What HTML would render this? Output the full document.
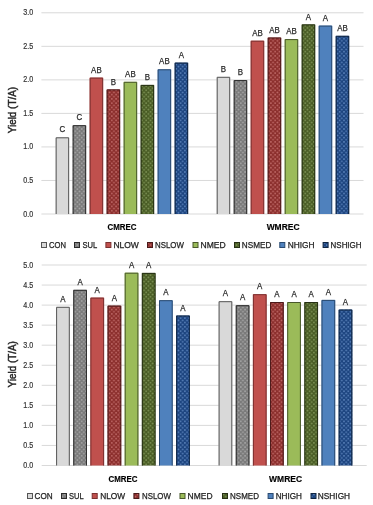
<!DOCTYPE html><html><head><meta charset="utf-8"><style>html,body{margin:0;padding:0;background:#fff;}svg{display:block;filter:blur(0.4px);}</style></head><body>
<svg width="373" height="505" viewBox="0 0 373 505">
<defs>
<pattern id="pSUL" patternUnits="userSpaceOnUse" width="4.3" height="4.3"><rect width="4.3" height="4.3" fill="#7a7a7a"/><circle cx="0" cy="0" r="0.9" fill="#a8a8a8"/><circle cx="4.3" cy="0" r="0.9" fill="#a8a8a8"/><circle cx="0" cy="4.3" r="0.9" fill="#a8a8a8"/><circle cx="4.3" cy="4.3" r="0.9" fill="#a8a8a8"/><circle cx="2.15" cy="2.15" r="0.9" fill="#a8a8a8"/></pattern>
<pattern id="pNSLOW" patternUnits="userSpaceOnUse" width="4.3" height="4.3"><rect width="4.3" height="4.3" fill="#8c2f2d"/><circle cx="0" cy="0" r="0.9" fill="#c06b69"/><circle cx="4.3" cy="0" r="0.9" fill="#c06b69"/><circle cx="0" cy="4.3" r="0.9" fill="#c06b69"/><circle cx="4.3" cy="4.3" r="0.9" fill="#c06b69"/><circle cx="2.15" cy="2.15" r="0.9" fill="#c06b69"/></pattern>
<pattern id="pNSMED" patternUnits="userSpaceOnUse" width="4.3" height="4.3"><rect width="4.3" height="4.3" fill="#4a5d25"/><circle cx="0" cy="0" r="0.9" fill="#7f9458"/><circle cx="4.3" cy="0" r="0.9" fill="#7f9458"/><circle cx="0" cy="4.3" r="0.9" fill="#7f9458"/><circle cx="4.3" cy="4.3" r="0.9" fill="#7f9458"/><circle cx="2.15" cy="2.15" r="0.9" fill="#7f9458"/></pattern>
<pattern id="pNSHIGH" patternUnits="userSpaceOnUse" width="4.3" height="4.3"><rect width="4.3" height="4.3" fill="#1d4580"/><circle cx="0" cy="0" r="0.9" fill="#5b83bb"/><circle cx="4.3" cy="0" r="0.9" fill="#5b83bb"/><circle cx="0" cy="4.3" r="0.9" fill="#5b83bb"/><circle cx="4.3" cy="4.3" r="0.9" fill="#5b83bb"/><circle cx="2.15" cy="2.15" r="0.9" fill="#5b83bb"/></pattern>
</defs>
<rect width="373" height="505" fill="#fff"/>
<line x1="41.4" y1="214.00" x2="363.5" y2="214.00" stroke="#d9d9d9" stroke-width="1"/>
<text x="23.30" y="216.50" font-family='"Liberation Sans", sans-serif' font-size="8.6" fill="#333" stroke="#333" stroke-width="0.2" textLength="9.9" lengthAdjust="spacingAndGlyphs">0.0</text>
<line x1="41.4" y1="180.47" x2="363.5" y2="180.47" stroke="#d9d9d9" stroke-width="1"/>
<text x="23.30" y="182.97" font-family='"Liberation Sans", sans-serif' font-size="8.6" fill="#333" stroke="#333" stroke-width="0.2" textLength="9.9" lengthAdjust="spacingAndGlyphs">0.5</text>
<line x1="41.4" y1="146.93" x2="363.5" y2="146.93" stroke="#d9d9d9" stroke-width="1"/>
<text x="23.30" y="149.43" font-family='"Liberation Sans", sans-serif' font-size="8.6" fill="#333" stroke="#333" stroke-width="0.2" textLength="9.9" lengthAdjust="spacingAndGlyphs">1.0</text>
<line x1="41.4" y1="113.40" x2="363.5" y2="113.40" stroke="#d9d9d9" stroke-width="1"/>
<text x="23.30" y="115.90" font-family='"Liberation Sans", sans-serif' font-size="8.6" fill="#333" stroke="#333" stroke-width="0.2" textLength="9.9" lengthAdjust="spacingAndGlyphs">1.5</text>
<line x1="41.4" y1="79.86" x2="363.5" y2="79.86" stroke="#d9d9d9" stroke-width="1"/>
<text x="23.30" y="82.36" font-family='"Liberation Sans", sans-serif' font-size="8.6" fill="#333" stroke="#333" stroke-width="0.2" textLength="9.9" lengthAdjust="spacingAndGlyphs">2.0</text>
<line x1="41.4" y1="46.33" x2="363.5" y2="46.33" stroke="#d9d9d9" stroke-width="1"/>
<text x="23.30" y="48.83" font-family='"Liberation Sans", sans-serif' font-size="8.6" fill="#333" stroke="#333" stroke-width="0.2" textLength="9.9" lengthAdjust="spacingAndGlyphs">2.5</text>
<line x1="41.4" y1="12.79" x2="363.5" y2="12.79" stroke="#d9d9d9" stroke-width="1"/>
<text x="23.30" y="15.29" font-family='"Liberation Sans", sans-serif' font-size="8.6" fill="#333" stroke="#333" stroke-width="0.2" textLength="9.9" lengthAdjust="spacingAndGlyphs">3.0</text>
<rect x="55.65" y="137.30" width="13.5" height="76.70" fill="#d9d9d9"/>
<path d="M56.15 214.00V137.80H68.65V214.00" fill="none" stroke="#555555" stroke-width="1"/>
<text x="59.54" y="132.40" font-family='"Liberation Sans", sans-serif' font-size="8.6" fill="#2a2a2a" stroke="#2a2a2a" stroke-width="0.25" textLength="5.71" lengthAdjust="spacingAndGlyphs">C</text>
<rect x="72.65" y="125.20" width="13.5" height="88.80" fill="url(#pSUL)"/>
<path d="M73.15 214.00V125.70H85.65V214.00" fill="none" stroke="#2a2a2a" stroke-width="1"/>
<text x="76.54" y="120.30" font-family='"Liberation Sans", sans-serif' font-size="8.6" fill="#2a2a2a" stroke="#2a2a2a" stroke-width="0.25" textLength="5.71" lengthAdjust="spacingAndGlyphs">C</text>
<rect x="89.65" y="77.60" width="13.5" height="136.40" fill="#c0504d"/>
<path d="M90.15 214.00V78.10H102.65V214.00" fill="none" stroke="#7a3030" stroke-width="1"/>
<text x="91.12" y="72.70" font-family='"Liberation Sans", sans-serif' font-size="8.6" fill="#2a2a2a" stroke="#2a2a2a" stroke-width="0.25" textLength="10.55" lengthAdjust="spacingAndGlyphs">AB</text>
<rect x="106.65" y="89.40" width="13.5" height="124.60" fill="url(#pNSLOW)"/>
<path d="M107.15 214.00V89.90H119.65V214.00" fill="none" stroke="#4a1a1a" stroke-width="1"/>
<text x="110.76" y="84.50" font-family='"Liberation Sans", sans-serif' font-size="8.6" fill="#2a2a2a" stroke="#2a2a2a" stroke-width="0.25" textLength="5.28" lengthAdjust="spacingAndGlyphs">B</text>
<rect x="123.65" y="81.80" width="13.5" height="132.20" fill="#9bbb59"/>
<path d="M124.15 214.00V82.30H136.65V214.00" fill="none" stroke="#48582a" stroke-width="1"/>
<text x="125.12" y="76.90" font-family='"Liberation Sans", sans-serif' font-size="8.6" fill="#2a2a2a" stroke="#2a2a2a" stroke-width="0.25" textLength="10.55" lengthAdjust="spacingAndGlyphs">AB</text>
<rect x="140.65" y="84.90" width="13.5" height="129.10" fill="url(#pNSMED)"/>
<path d="M141.15 214.00V85.40H153.65V214.00" fill="none" stroke="#263014" stroke-width="1"/>
<text x="144.76" y="80.00" font-family='"Liberation Sans", sans-serif' font-size="8.6" fill="#2a2a2a" stroke="#2a2a2a" stroke-width="0.25" textLength="5.28" lengthAdjust="spacingAndGlyphs">B</text>
<rect x="157.65" y="69.30" width="13.5" height="144.70" fill="#4f81bd"/>
<path d="M158.15 214.00V69.80H170.65V214.00" fill="none" stroke="#2a4a70" stroke-width="1"/>
<text x="159.12" y="64.40" font-family='"Liberation Sans", sans-serif' font-size="8.6" fill="#2a2a2a" stroke="#2a2a2a" stroke-width="0.25" textLength="10.55" lengthAdjust="spacingAndGlyphs">AB</text>
<rect x="174.65" y="62.60" width="13.5" height="151.40" fill="url(#pNSHIGH)"/>
<path d="M175.15 214.00V63.10H187.65V214.00" fill="none" stroke="#0f2440" stroke-width="1"/>
<text x="178.76" y="57.70" font-family='"Liberation Sans", sans-serif' font-size="8.6" fill="#2a2a2a" stroke="#2a2a2a" stroke-width="0.25" textLength="5.28" lengthAdjust="spacingAndGlyphs">A</text>
<rect x="216.70" y="76.80" width="13.5" height="137.20" fill="#d9d9d9"/>
<path d="M217.20 214.00V77.30H229.70V214.00" fill="none" stroke="#555555" stroke-width="1"/>
<text x="220.81" y="71.90" font-family='"Liberation Sans", sans-serif' font-size="8.6" fill="#2a2a2a" stroke="#2a2a2a" stroke-width="0.25" textLength="5.28" lengthAdjust="spacingAndGlyphs">B</text>
<rect x="233.70" y="80.10" width="13.5" height="133.90" fill="url(#pSUL)"/>
<path d="M234.20 214.00V80.60H246.70V214.00" fill="none" stroke="#2a2a2a" stroke-width="1"/>
<text x="237.81" y="75.20" font-family='"Liberation Sans", sans-serif' font-size="8.6" fill="#2a2a2a" stroke="#2a2a2a" stroke-width="0.25" textLength="5.28" lengthAdjust="spacingAndGlyphs">B</text>
<rect x="250.70" y="40.70" width="13.5" height="173.30" fill="#c0504d"/>
<path d="M251.20 214.00V41.20H263.70V214.00" fill="none" stroke="#7a3030" stroke-width="1"/>
<text x="252.17" y="35.80" font-family='"Liberation Sans", sans-serif' font-size="8.6" fill="#2a2a2a" stroke="#2a2a2a" stroke-width="0.25" textLength="10.55" lengthAdjust="spacingAndGlyphs">AB</text>
<rect x="267.70" y="37.50" width="13.5" height="176.50" fill="url(#pNSLOW)"/>
<path d="M268.20 214.00V38.00H280.70V214.00" fill="none" stroke="#4a1a1a" stroke-width="1"/>
<text x="269.17" y="32.60" font-family='"Liberation Sans", sans-serif' font-size="8.6" fill="#2a2a2a" stroke="#2a2a2a" stroke-width="0.25" textLength="10.55" lengthAdjust="spacingAndGlyphs">AB</text>
<rect x="284.70" y="39.10" width="13.5" height="174.90" fill="#9bbb59"/>
<path d="M285.20 214.00V39.60H297.70V214.00" fill="none" stroke="#48582a" stroke-width="1"/>
<text x="286.17" y="34.20" font-family='"Liberation Sans", sans-serif' font-size="8.6" fill="#2a2a2a" stroke="#2a2a2a" stroke-width="0.25" textLength="10.55" lengthAdjust="spacingAndGlyphs">AB</text>
<rect x="301.70" y="24.40" width="13.5" height="189.60" fill="url(#pNSMED)"/>
<path d="M302.20 214.00V24.90H314.70V214.00" fill="none" stroke="#263014" stroke-width="1"/>
<text x="305.81" y="19.50" font-family='"Liberation Sans", sans-serif' font-size="8.6" fill="#2a2a2a" stroke="#2a2a2a" stroke-width="0.25" textLength="5.28" lengthAdjust="spacingAndGlyphs">A</text>
<rect x="318.70" y="25.60" width="13.5" height="188.40" fill="#4f81bd"/>
<path d="M319.20 214.00V26.10H331.70V214.00" fill="none" stroke="#2a4a70" stroke-width="1"/>
<text x="322.81" y="20.70" font-family='"Liberation Sans", sans-serif' font-size="8.6" fill="#2a2a2a" stroke="#2a2a2a" stroke-width="0.25" textLength="5.28" lengthAdjust="spacingAndGlyphs">A</text>
<rect x="335.70" y="35.80" width="13.5" height="178.20" fill="url(#pNSHIGH)"/>
<path d="M336.20 214.00V36.30H348.70V214.00" fill="none" stroke="#0f2440" stroke-width="1"/>
<text x="337.17" y="30.90" font-family='"Liberation Sans", sans-serif' font-size="8.6" fill="#2a2a2a" stroke="#2a2a2a" stroke-width="0.25" textLength="10.55" lengthAdjust="spacingAndGlyphs">AB</text>
<text transform="translate(15.8 110.1) rotate(-90)" x="-23.2" y="0" font-family='"Liberation Sans", sans-serif' font-size="10.8" fill="#262626" stroke="#262626" stroke-width="0.45" textLength="46.4" lengthAdjust="spacingAndGlyphs">Yield (T/A)</text>
<text x="107.53" y="230.2" font-family='"Liberation Sans", sans-serif' font-size="8.9" font-weight="bold" fill="#000" stroke="#000" stroke-width="0.15" textLength="29.0" lengthAdjust="spacingAndGlyphs">CMREC</text>
<text x="266.63" y="230.2" font-family='"Liberation Sans", sans-serif' font-size="8.9" font-weight="bold" fill="#000" stroke="#000" stroke-width="0.15" textLength="32.9" lengthAdjust="spacingAndGlyphs">WMREC</text>
<rect x="41.5" y="242.5" width="5" height="5" fill="#d9d9d9" stroke="#555555" stroke-width="1"/>
<text x="49" y="248.2" font-family='"Liberation Sans", sans-serif' font-size="8.6" fill="#222" stroke="#222" stroke-width="0.25" textLength="17.0" lengthAdjust="spacingAndGlyphs">CON</text>
<rect x="74.5" y="242.5" width="5" height="5" fill="url(#pSUL)" stroke="#2a2a2a" stroke-width="1"/>
<text x="82.4" y="248.2" font-family='"Liberation Sans", sans-serif' font-size="8.6" fill="#222" stroke="#222" stroke-width="0.25" textLength="14.8" lengthAdjust="spacingAndGlyphs">SUL</text>
<rect x="105.9" y="242.5" width="5" height="5" fill="#c0504d" stroke="#7a3030" stroke-width="1"/>
<text x="113.4" y="248.2" font-family='"Liberation Sans", sans-serif' font-size="8.6" fill="#222" stroke="#222" stroke-width="0.25" textLength="25.5" lengthAdjust="spacingAndGlyphs">NLOW</text>
<rect x="147.5" y="242.5" width="5" height="5" fill="url(#pNSLOW)" stroke="#4a1a1a" stroke-width="1"/>
<text x="155" y="248.2" font-family='"Liberation Sans", sans-serif' font-size="8.6" fill="#222" stroke="#222" stroke-width="0.25" textLength="28.9" lengthAdjust="spacingAndGlyphs">NSLOW</text>
<rect x="193.0" y="242.5" width="5" height="5" fill="#9bbb59" stroke="#48582a" stroke-width="1"/>
<text x="200.5" y="248.2" font-family='"Liberation Sans", sans-serif' font-size="8.6" fill="#222" stroke="#222" stroke-width="0.25" textLength="25.2" lengthAdjust="spacingAndGlyphs">NMED</text>
<rect x="234.5" y="242.5" width="5" height="5" fill="url(#pNSMED)" stroke="#263014" stroke-width="1"/>
<text x="241.8" y="248.2" font-family='"Liberation Sans", sans-serif' font-size="8.6" fill="#222" stroke="#222" stroke-width="0.25" textLength="29.5" lengthAdjust="spacingAndGlyphs">NSMED</text>
<rect x="279.8" y="242.5" width="5" height="5" fill="#4f81bd" stroke="#2a4a70" stroke-width="1"/>
<text x="287.7" y="248.2" font-family='"Liberation Sans", sans-serif' font-size="8.6" fill="#222" stroke="#222" stroke-width="0.25" textLength="26.9" lengthAdjust="spacingAndGlyphs">NHIGH</text>
<rect x="323.1" y="242.5" width="5" height="5" fill="url(#pNSHIGH)" stroke="#0f2440" stroke-width="1"/>
<text x="330.6" y="248.2" font-family='"Liberation Sans", sans-serif' font-size="8.6" fill="#222" stroke="#222" stroke-width="0.25" textLength="30.9" lengthAdjust="spacingAndGlyphs">NSHIGH</text>
<line x1="41.7" y1="465.50" x2="366.7" y2="465.50" stroke="#d9d9d9" stroke-width="1"/>
<text x="23.30" y="468.00" font-family='"Liberation Sans", sans-serif' font-size="8.6" fill="#333" stroke="#333" stroke-width="0.2" textLength="9.9" lengthAdjust="spacingAndGlyphs">0.0</text>
<line x1="41.7" y1="445.45" x2="366.7" y2="445.45" stroke="#d9d9d9" stroke-width="1"/>
<text x="23.30" y="447.95" font-family='"Liberation Sans", sans-serif' font-size="8.6" fill="#333" stroke="#333" stroke-width="0.2" textLength="9.9" lengthAdjust="spacingAndGlyphs">0.5</text>
<line x1="41.7" y1="425.40" x2="366.7" y2="425.40" stroke="#d9d9d9" stroke-width="1"/>
<text x="23.30" y="427.90" font-family='"Liberation Sans", sans-serif' font-size="8.6" fill="#333" stroke="#333" stroke-width="0.2" textLength="9.9" lengthAdjust="spacingAndGlyphs">1.0</text>
<line x1="41.7" y1="405.35" x2="366.7" y2="405.35" stroke="#d9d9d9" stroke-width="1"/>
<text x="23.30" y="407.85" font-family='"Liberation Sans", sans-serif' font-size="8.6" fill="#333" stroke="#333" stroke-width="0.2" textLength="9.9" lengthAdjust="spacingAndGlyphs">1.5</text>
<line x1="41.7" y1="385.30" x2="366.7" y2="385.30" stroke="#d9d9d9" stroke-width="1"/>
<text x="23.30" y="387.80" font-family='"Liberation Sans", sans-serif' font-size="8.6" fill="#333" stroke="#333" stroke-width="0.2" textLength="9.9" lengthAdjust="spacingAndGlyphs">2.0</text>
<line x1="41.7" y1="365.25" x2="366.7" y2="365.25" stroke="#d9d9d9" stroke-width="1"/>
<text x="23.30" y="367.75" font-family='"Liberation Sans", sans-serif' font-size="8.6" fill="#333" stroke="#333" stroke-width="0.2" textLength="9.9" lengthAdjust="spacingAndGlyphs">2.5</text>
<line x1="41.7" y1="345.20" x2="366.7" y2="345.20" stroke="#d9d9d9" stroke-width="1"/>
<text x="23.30" y="347.70" font-family='"Liberation Sans", sans-serif' font-size="8.6" fill="#333" stroke="#333" stroke-width="0.2" textLength="9.9" lengthAdjust="spacingAndGlyphs">3.0</text>
<line x1="41.7" y1="325.15" x2="366.7" y2="325.15" stroke="#d9d9d9" stroke-width="1"/>
<text x="23.30" y="327.65" font-family='"Liberation Sans", sans-serif' font-size="8.6" fill="#333" stroke="#333" stroke-width="0.2" textLength="9.9" lengthAdjust="spacingAndGlyphs">3.5</text>
<line x1="41.7" y1="305.10" x2="366.7" y2="305.10" stroke="#d9d9d9" stroke-width="1"/>
<text x="23.30" y="307.60" font-family='"Liberation Sans", sans-serif' font-size="8.6" fill="#333" stroke="#333" stroke-width="0.2" textLength="9.9" lengthAdjust="spacingAndGlyphs">4.0</text>
<line x1="41.7" y1="285.05" x2="366.7" y2="285.05" stroke="#d9d9d9" stroke-width="1"/>
<text x="23.30" y="287.55" font-family='"Liberation Sans", sans-serif' font-size="8.6" fill="#333" stroke="#333" stroke-width="0.2" textLength="9.9" lengthAdjust="spacingAndGlyphs">4.5</text>
<line x1="41.7" y1="265.00" x2="366.7" y2="265.00" stroke="#d9d9d9" stroke-width="1"/>
<text x="23.30" y="267.50" font-family='"Liberation Sans", sans-serif' font-size="8.6" fill="#333" stroke="#333" stroke-width="0.2" textLength="9.9" lengthAdjust="spacingAndGlyphs">5.0</text>
<rect x="56.10" y="306.80" width="13.7" height="158.70" fill="#d9d9d9"/>
<path d="M56.60 465.50V307.30H69.30V465.50" fill="none" stroke="#555555" stroke-width="1"/>
<text x="60.31" y="301.90" font-family='"Liberation Sans", sans-serif' font-size="8.6" fill="#2a2a2a" stroke="#2a2a2a" stroke-width="0.25" textLength="5.28" lengthAdjust="spacingAndGlyphs">A</text>
<rect x="73.25" y="289.80" width="13.7" height="175.70" fill="url(#pSUL)"/>
<path d="M73.75 465.50V290.30H86.45V465.50" fill="none" stroke="#2a2a2a" stroke-width="1"/>
<text x="77.46" y="284.90" font-family='"Liberation Sans", sans-serif' font-size="8.6" fill="#2a2a2a" stroke="#2a2a2a" stroke-width="0.25" textLength="5.28" lengthAdjust="spacingAndGlyphs">A</text>
<rect x="90.40" y="297.60" width="13.7" height="167.90" fill="#c0504d"/>
<path d="M90.90 465.50V298.10H103.60V465.50" fill="none" stroke="#7a3030" stroke-width="1"/>
<text x="94.61" y="292.70" font-family='"Liberation Sans", sans-serif' font-size="8.6" fill="#2a2a2a" stroke="#2a2a2a" stroke-width="0.25" textLength="5.28" lengthAdjust="spacingAndGlyphs">A</text>
<rect x="107.55" y="305.60" width="13.7" height="159.90" fill="url(#pNSLOW)"/>
<path d="M108.05 465.50V306.10H120.75V465.50" fill="none" stroke="#4a1a1a" stroke-width="1"/>
<text x="111.76" y="300.70" font-family='"Liberation Sans", sans-serif' font-size="8.6" fill="#2a2a2a" stroke="#2a2a2a" stroke-width="0.25" textLength="5.28" lengthAdjust="spacingAndGlyphs">A</text>
<rect x="124.70" y="272.70" width="13.7" height="192.80" fill="#9bbb59"/>
<path d="M125.20 465.50V273.20H137.90V465.50" fill="none" stroke="#48582a" stroke-width="1"/>
<text x="128.91" y="267.80" font-family='"Liberation Sans", sans-serif' font-size="8.6" fill="#2a2a2a" stroke="#2a2a2a" stroke-width="0.25" textLength="5.28" lengthAdjust="spacingAndGlyphs">A</text>
<rect x="141.85" y="272.90" width="13.7" height="192.60" fill="url(#pNSMED)"/>
<path d="M142.35 465.50V273.40H155.05V465.50" fill="none" stroke="#263014" stroke-width="1"/>
<text x="146.06" y="268.00" font-family='"Liberation Sans", sans-serif' font-size="8.6" fill="#2a2a2a" stroke="#2a2a2a" stroke-width="0.25" textLength="5.28" lengthAdjust="spacingAndGlyphs">A</text>
<rect x="159.00" y="300.20" width="13.7" height="165.30" fill="#4f81bd"/>
<path d="M159.50 465.50V300.70H172.20V465.50" fill="none" stroke="#2a4a70" stroke-width="1"/>
<text x="163.21" y="295.30" font-family='"Liberation Sans", sans-serif' font-size="8.6" fill="#2a2a2a" stroke="#2a2a2a" stroke-width="0.25" textLength="5.28" lengthAdjust="spacingAndGlyphs">A</text>
<rect x="176.15" y="315.50" width="13.7" height="150.00" fill="url(#pNSHIGH)"/>
<path d="M176.65 465.50V316.00H189.35V465.50" fill="none" stroke="#0f2440" stroke-width="1"/>
<text x="180.36" y="310.60" font-family='"Liberation Sans", sans-serif' font-size="8.6" fill="#2a2a2a" stroke="#2a2a2a" stroke-width="0.25" textLength="5.28" lengthAdjust="spacingAndGlyphs">A</text>
<rect x="218.60" y="301.20" width="13.7" height="164.30" fill="#d9d9d9"/>
<path d="M219.10 465.50V301.70H231.80V465.50" fill="none" stroke="#555555" stroke-width="1"/>
<text x="222.81" y="296.30" font-family='"Liberation Sans", sans-serif' font-size="8.6" fill="#2a2a2a" stroke="#2a2a2a" stroke-width="0.25" textLength="5.28" lengthAdjust="spacingAndGlyphs">A</text>
<rect x="235.75" y="305.20" width="13.7" height="160.30" fill="url(#pSUL)"/>
<path d="M236.25 465.50V305.70H248.95V465.50" fill="none" stroke="#2a2a2a" stroke-width="1"/>
<text x="239.96" y="300.30" font-family='"Liberation Sans", sans-serif' font-size="8.6" fill="#2a2a2a" stroke="#2a2a2a" stroke-width="0.25" textLength="5.28" lengthAdjust="spacingAndGlyphs">A</text>
<rect x="252.90" y="294.20" width="13.7" height="171.30" fill="#c0504d"/>
<path d="M253.40 465.50V294.70H266.10V465.50" fill="none" stroke="#7a3030" stroke-width="1"/>
<text x="257.11" y="289.30" font-family='"Liberation Sans", sans-serif' font-size="8.6" fill="#2a2a2a" stroke="#2a2a2a" stroke-width="0.25" textLength="5.28" lengthAdjust="spacingAndGlyphs">A</text>
<rect x="270.05" y="302.00" width="13.7" height="163.50" fill="url(#pNSLOW)"/>
<path d="M270.55 465.50V302.50H283.25V465.50" fill="none" stroke="#4a1a1a" stroke-width="1"/>
<text x="274.26" y="297.10" font-family='"Liberation Sans", sans-serif' font-size="8.6" fill="#2a2a2a" stroke="#2a2a2a" stroke-width="0.25" textLength="5.28" lengthAdjust="spacingAndGlyphs">A</text>
<rect x="287.20" y="302.00" width="13.7" height="163.50" fill="#9bbb59"/>
<path d="M287.70 465.50V302.50H300.40V465.50" fill="none" stroke="#48582a" stroke-width="1"/>
<text x="291.41" y="297.10" font-family='"Liberation Sans", sans-serif' font-size="8.6" fill="#2a2a2a" stroke="#2a2a2a" stroke-width="0.25" textLength="5.28" lengthAdjust="spacingAndGlyphs">A</text>
<rect x="304.35" y="302.00" width="13.7" height="163.50" fill="url(#pNSMED)"/>
<path d="M304.85 465.50V302.50H317.55V465.50" fill="none" stroke="#263014" stroke-width="1"/>
<text x="308.56" y="297.10" font-family='"Liberation Sans", sans-serif' font-size="8.6" fill="#2a2a2a" stroke="#2a2a2a" stroke-width="0.25" textLength="5.28" lengthAdjust="spacingAndGlyphs">A</text>
<rect x="321.50" y="299.90" width="13.7" height="165.60" fill="#4f81bd"/>
<path d="M322.00 465.50V300.40H334.70V465.50" fill="none" stroke="#2a4a70" stroke-width="1"/>
<text x="325.71" y="295.00" font-family='"Liberation Sans", sans-serif' font-size="8.6" fill="#2a2a2a" stroke="#2a2a2a" stroke-width="0.25" textLength="5.28" lengthAdjust="spacingAndGlyphs">A</text>
<rect x="338.65" y="309.50" width="13.7" height="156.00" fill="url(#pNSHIGH)"/>
<path d="M339.15 465.50V310.00H351.85V465.50" fill="none" stroke="#0f2440" stroke-width="1"/>
<text x="342.86" y="304.60" font-family='"Liberation Sans", sans-serif' font-size="8.6" fill="#2a2a2a" stroke="#2a2a2a" stroke-width="0.25" textLength="5.28" lengthAdjust="spacingAndGlyphs">A</text>
<text transform="translate(15.8 364.3) rotate(-90)" x="-23.2" y="0" font-family='"Liberation Sans", sans-serif' font-size="10.8" fill="#262626" stroke="#262626" stroke-width="0.45" textLength="46.4" lengthAdjust="spacingAndGlyphs">Yield (T/A)</text>
<text x="108.55" y="482.0" font-family='"Liberation Sans", sans-serif' font-size="8.9" font-weight="bold" fill="#000" stroke="#000" stroke-width="0.15" textLength="29.0" lengthAdjust="spacingAndGlyphs">CMREC</text>
<text x="269.10" y="482.0" font-family='"Liberation Sans", sans-serif' font-size="8.9" font-weight="bold" fill="#000" stroke="#000" stroke-width="0.15" textLength="32.9" lengthAdjust="spacingAndGlyphs">WMREC</text>
<rect x="27.5" y="493.5" width="5" height="5" fill="#d9d9d9" stroke="#555555" stroke-width="1"/>
<text x="34.5" y="499.2" font-family='"Liberation Sans", sans-serif' font-size="8.6" fill="#222" stroke="#222" stroke-width="0.25" textLength="18.1" lengthAdjust="spacingAndGlyphs">CON</text>
<rect x="61.5" y="493.5" width="5" height="5" fill="url(#pSUL)" stroke="#2a2a2a" stroke-width="1"/>
<text x="69" y="499.2" font-family='"Liberation Sans", sans-serif' font-size="8.6" fill="#222" stroke="#222" stroke-width="0.25" textLength="14.6" lengthAdjust="spacingAndGlyphs">SUL</text>
<rect x="92.2" y="493.5" width="5" height="5" fill="#c0504d" stroke="#7a3030" stroke-width="1"/>
<text x="100.2" y="499.2" font-family='"Liberation Sans", sans-serif' font-size="8.6" fill="#222" stroke="#222" stroke-width="0.25" textLength="25.0" lengthAdjust="spacingAndGlyphs">NLOW</text>
<rect x="133.9" y="493.5" width="5" height="5" fill="url(#pNSLOW)" stroke="#4a1a1a" stroke-width="1"/>
<text x="142" y="499.2" font-family='"Liberation Sans", sans-serif' font-size="8.6" fill="#222" stroke="#222" stroke-width="0.25" textLength="28.9" lengthAdjust="spacingAndGlyphs">NSLOW</text>
<rect x="180.0" y="493.5" width="5" height="5" fill="#9bbb59" stroke="#48582a" stroke-width="1"/>
<text x="187.6" y="499.2" font-family='"Liberation Sans", sans-serif' font-size="8.6" fill="#222" stroke="#222" stroke-width="0.25" textLength="24.9" lengthAdjust="spacingAndGlyphs">NMED</text>
<rect x="222.5" y="493.5" width="5" height="5" fill="url(#pNSMED)" stroke="#263014" stroke-width="1"/>
<text x="230.1" y="499.2" font-family='"Liberation Sans", sans-serif' font-size="8.6" fill="#222" stroke="#222" stroke-width="0.25" textLength="28.9" lengthAdjust="spacingAndGlyphs">NSMED</text>
<rect x="268.1" y="493.5" width="5" height="5" fill="#4f81bd" stroke="#2a4a70" stroke-width="1"/>
<text x="275.7" y="499.2" font-family='"Liberation Sans", sans-serif' font-size="8.6" fill="#222" stroke="#222" stroke-width="0.25" textLength="26.3" lengthAdjust="spacingAndGlyphs">NHIGH</text>
<rect x="311.0" y="493.5" width="5" height="5" fill="url(#pNSHIGH)" stroke="#0f2440" stroke-width="1"/>
<text x="317.8" y="499.2" font-family='"Liberation Sans", sans-serif' font-size="8.6" fill="#222" stroke="#222" stroke-width="0.25" textLength="32.3" lengthAdjust="spacingAndGlyphs">NSHIGH</text>
</svg></body></html>
